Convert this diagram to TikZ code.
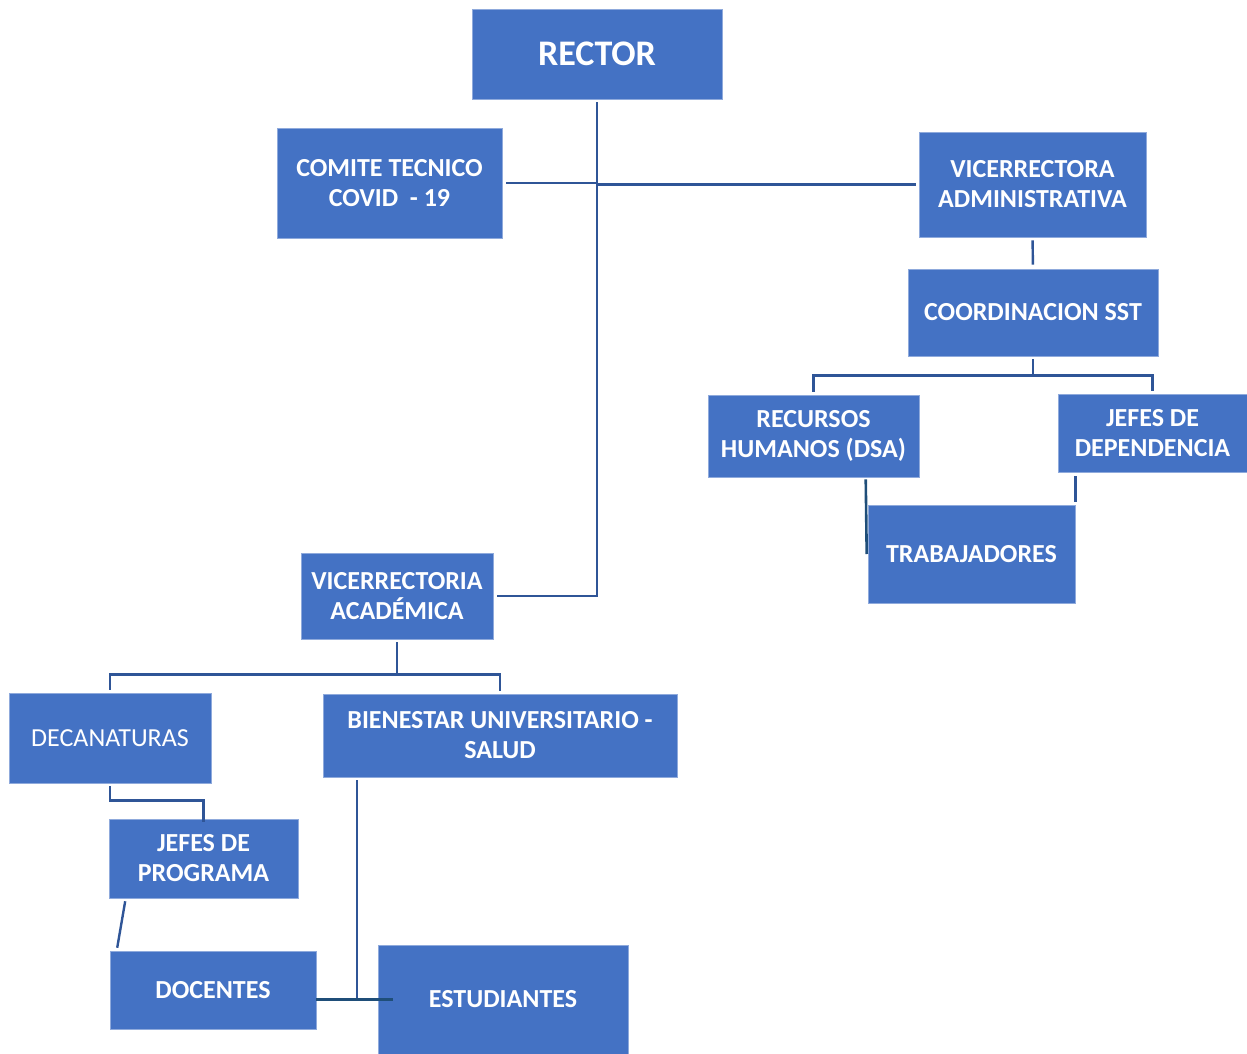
\documentclass[tikz,border=0pt]{standalone}
\usepackage{fontspec}
\setmainfont{Carlito}
\definecolor{cajaazul}{HTML}{4472C4}
\definecolor{bordeazul}{HTML}{8FAADC}
\definecolor{lineaazul}{HTML}{2F5597}
\definecolor{lineaosc}{HTML}{1F4E79}

\begin{document}
\begin{tikzpicture}[x=1pt, y=-1pt,
  caja/.style={draw=bordeazul, line width=0.6pt, fill=cajaazul, text=white, align=center, inner sep=0pt,
               font=\fontsize{26}{30}\selectfont\bfseries},
  linea/.style={draw=lineaazul, line width=2.4pt},
  lineaosc/.style={draw=lineaosc, line width=2.6pt}]

\useasboundingbox (0,0) rectangle (1247,1054);

                 \node [caja, minimum width=250, minimum height=90, font=\fontsize{36}{40}\selectfont\bfseries] at (597,54) (rector) {RECTOR};
              \node [caja, minimum width=225, minimum height=110] at (389.5,183) (comite) {COMITE TECNICO\\COVID\ \ - 19};
                   \node [caja, minimum width=227, minimum height=105] at (1032.5,184.5) (vadmin) {VICERRECTORA\\ADMINISTRATIVA};
                       \node [caja, minimum width=250, minimum height=87] at (1033,312.5) (coord) {COORDINACION SST};
                        \node [caja, minimum width=211, minimum height=82] at (813.5,436) (rrhh) {RECURSOS\\HUMANOS (DSA)};
                        \node [caja, minimum width=189, minimum height=78] at (1152.5,433) (jdep) {JEFES DE\\DEPENDENCIA};
                          \node [caja, minimum width=207, minimum height=98] at (971.5,554) (trab) {TRABAJADORES};
                           \node [caja, minimum width=192, minimum height=86] at (397,596) (vacad) {VICERRECTORIA\\ACADÉMICA};
                           \node [caja, minimum width=202, minimum height=90, font=\fontsize{26}{30}\selectfont\mdseries] at (110,738) (decan) {DECANATURAS};
                           \node [caja, minimum width=354, minimum height=83] at (500,735.5) (bienestar) {BIENESTAR UNIVERSITARIO -\\SALUD};
                           \node [caja, minimum width=189, minimum height=79] at (203.5,858.5) (jprog) {JEFES DE\\PROGRAMA};
                           \node [caja, minimum width=206, minimum height=78] at (213,990) (docentes) {DOCENTES};
                           \node [caja, minimum width=250, minimum height=109] at (503,999.5) (estud) {ESTUDIANTES};
%
\coordinate (nudo1) at ([yshift=-19pt]coord.south);
\coordinate (nudo2) at ([yshift=-35pt]vacad.south);
\coordinate (codo) at ([yshift=-17pt]decan.south);
\coordinate (bajada) at ([xshift=34pt]bienestar.south west);
\coordinate (pie1) at ([xshift=17pt]jprog.south west);
\coordinate (pie2) at ([xshift=7pt]docentes.north west);
%
\draw[linea, shorten <=3pt, shorten >=4pt] (rector.south) |- (vacad.east);
\draw[linea, shorten <=4pt] (comite.east) -- (comite.east -| rector.south);
\draw[linea, shorten >=3pt] (rector.south |- vadmin.west) -- (vadmin.west);
\draw[linea, shorten <=3pt, shorten >=4pt] (vadmin.south) -- (coord.north);
\draw[linea, shorten <=3pt] (coord.south) -- (nudo1);
\draw[linea, shorten <=3pt, shorten >=3pt] (rrhh.north) |- (nudo1) -| (jdep.north);
\draw[lineaosc, shorten <=2pt] ([xshift=-2pt]trab.west |- rrhh.south) -- ([xshift=-1pt]trab.west);
\draw[linea, shorten <=4pt, shorten >=3pt] (trab.north east |- jdep.south) -- (trab.north east);
\draw[linea, shorten <=3pt] (vacad.south) -- (nudo2);
\draw[linea, shorten <=3pt, shorten >=3pt] (decan.north) |- (nudo2) -| (bienestar.north);
\draw[linea, shorten <=3pt] (decan.south) -- (codo) -| ([yshift=-3pt]jprog.north);
\draw[linea, shorten <=3pt, shorten >=3pt] (pie1) -- (pie2);
\draw[linea, shorten <=3pt] (bajada) -- (bajada |- estud.west);
\draw[lineaosc] (docentes.east |- estud.west) -- ([xshift=15pt]estud.west);
%

\end{tikzpicture}
\end{document}
